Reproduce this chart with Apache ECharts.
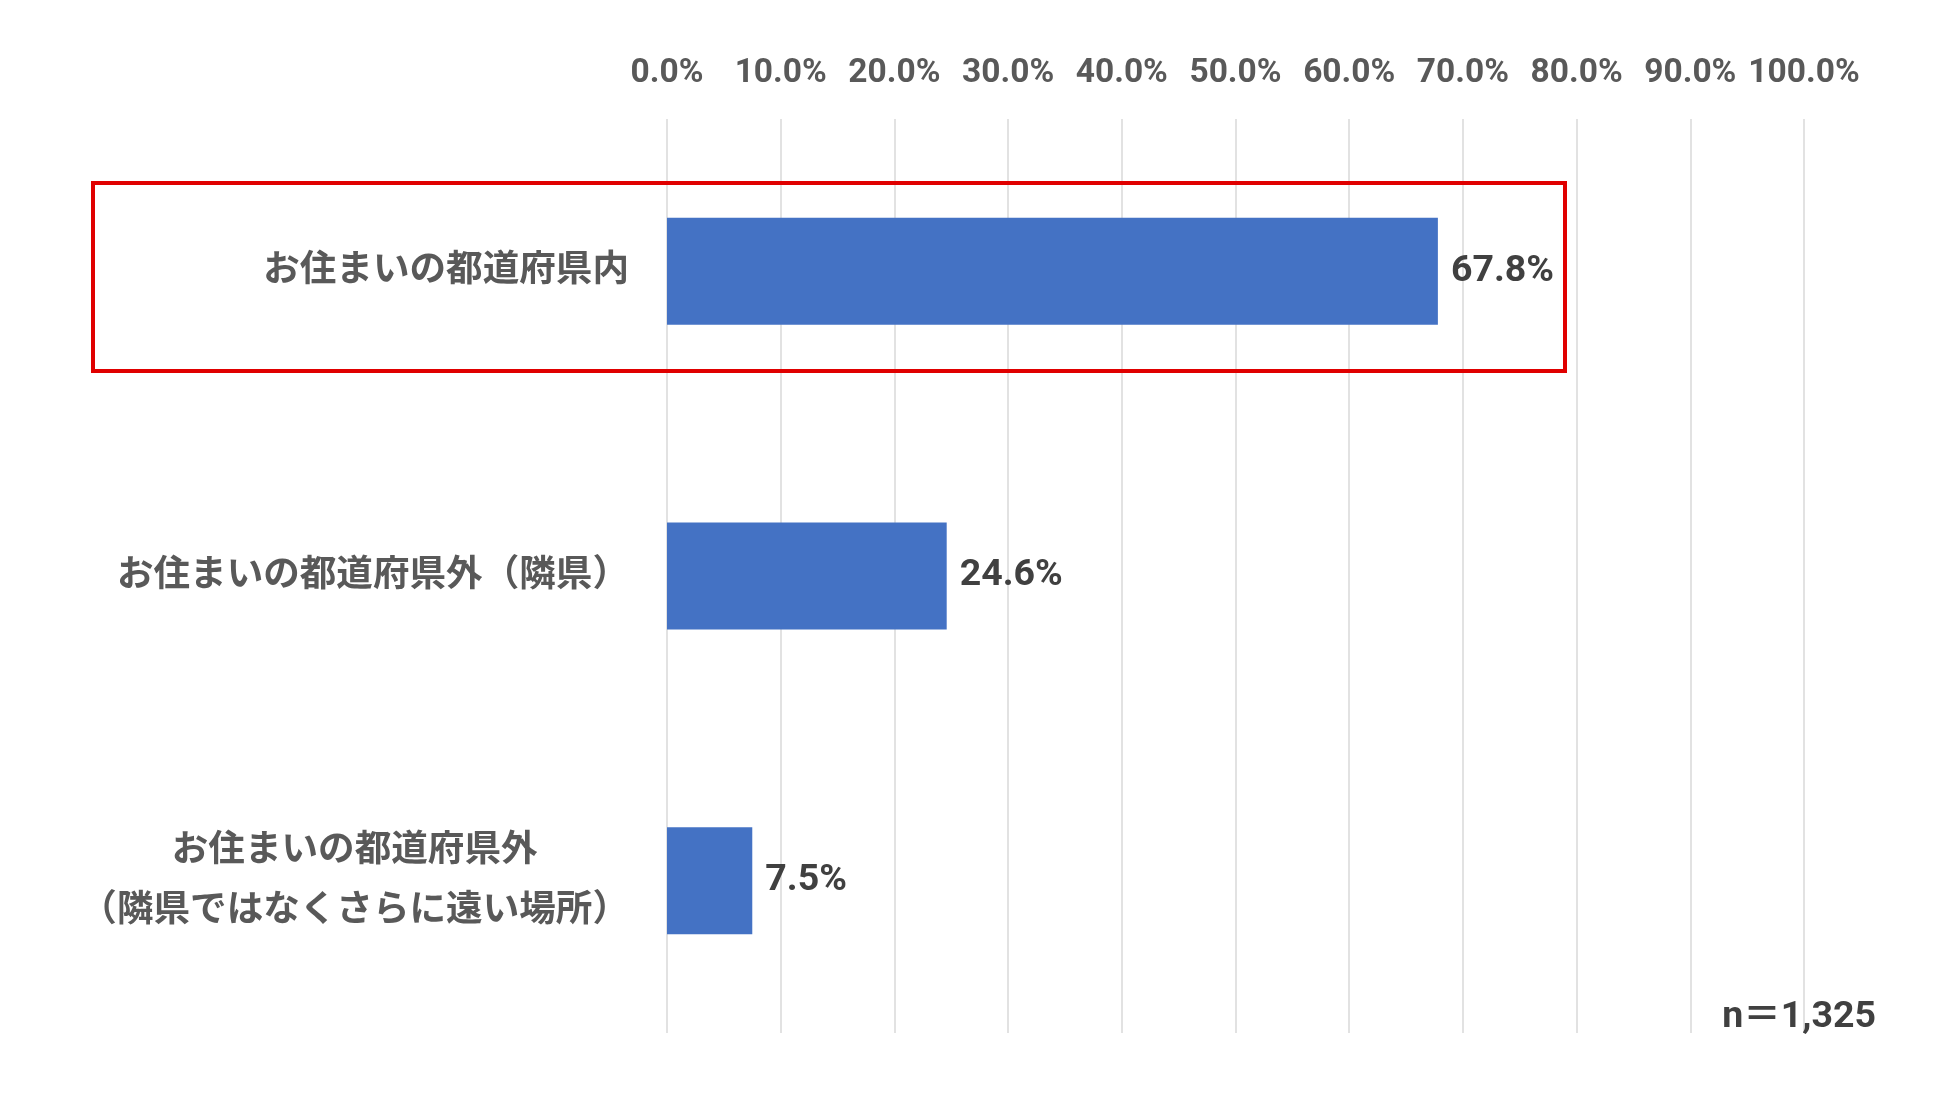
<!DOCTYPE html>
<html>
<head>
<meta charset="utf-8">
<script src="https://cdn.jsdelivr.net/npm/echarts@6/dist/echarts.min.js"></script>
<style>
html,body{margin:0;padding:0;background:#fff;}
#main{width:1950px;height:1097px;}
</style>
</head>
<body>
<div id="main"></div>
<script>
const categories = [
  'お住まいの都道府県内',
  'お住まいの都道府県外（隣県）',
  'お住まいの都道府県外\n（隣県ではなくさらに遠い場所）'
];
const values = [67.8, 24.6, 7.5];
const sampleNote = 'n＝1,325';

const chart = echarts.init(document.getElementById('main'));
const option = {
  backgroundColor: '#ffffff',
  animation: false,
  grid: { left: 667, right: 146, top: 119, bottom: 64 },
  xAxis: {
    type: 'value',
    position: 'top',
    min: 0,
    max: 100,
    interval: 10,
    axisLine: { show: false },
    axisTick: { show: false },
    splitLine: { show: true, lineStyle: { color: '#d9d9d9', width: 1.5 } },
    axisLabel: {
      formatter: v => v.toFixed(1) + '%',
      fontFamily: 'Roboto, "Noto Sans CJK JP", sans-serif',
      fontWeight: 'bold',
      fontSize: 33.5,
      color: '#595959',
      margin: 29
    }
  },
  yAxis: {
    type: 'category',
    inverse: true,
    data: categories,
    axisLine: { show: false },
    axisTick: { show: false },
    axisLabel: {
      fontFamily: '"Noto Sans CJK JP", sans-serif',
      fontWeight: 'bold',
      fontSize: 36.6,
      color: '#595959',
      margin: 38,
      lineHeight: 60,
      padding: [0, 0, 8, 0],
      formatter: function (v) {
        if (v.indexOf('\n') >= 0) {
          return v.split('\n').map(s => '{c|' + s + '}').join('\n');
        }
        return v;
      },
      rich: {
        c: {
          align: 'center',
          fontFamily: '"Noto Sans CJK JP", sans-serif',
          fontWeight: 'bold',
          fontSize: 36.6,
          color: '#595959',
          lineHeight: 60
        }
      }
    }
  },
  series: [{
    type: 'bar',
    data: values,
    barWidth: 107,
    itemStyle: { color: '#4472C4' },
    label: {
      show: true,
      position: 'right',
      distance: 13,
      formatter: p => p.value.toFixed(1) + '%',
      fontFamily: 'Roboto, "Noto Sans CJK JP", sans-serif',
      fontWeight: 'bold',
      fontSize: 37.5,
      color: '#404040'
    }
  }],
  graphic: [
    {
      type: 'rect',
      shape: { x: 93, y: 183, width: 1472, height: 188 },
      style: { fill: 'none', stroke: '#e00000', lineWidth: 4 },
      z: 10
    },
    {
      type: 'text',
      right: 74,
      top: 999,
      style: {
        text: sampleNote,
        fontFamily: 'Roboto, "Noto Sans CJK JP", sans-serif',
        fontWeight: 'bold',
        fontSize: 37.5,
        fill: '#404040'
      },
      z: 10
    }
  ]
};
chart.setOption(option);
</script>
</body>
</html>
